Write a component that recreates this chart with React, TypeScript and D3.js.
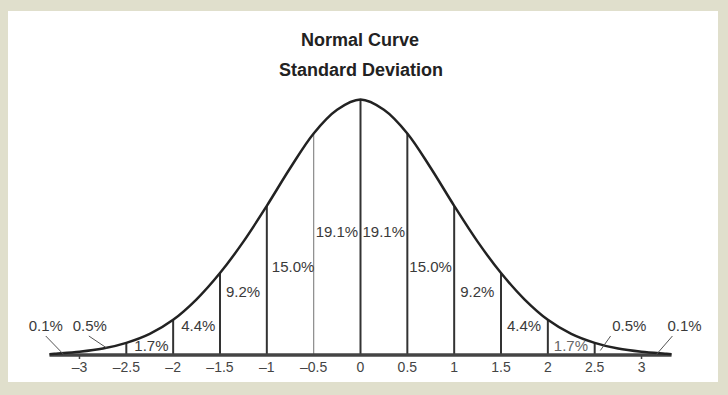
import React from 'react';
import * as d3 from 'd3';

// curve heights (density units), symmetric around 0
const sdPoints = [-3.32, -3.25, -3, -2.75, -2.5, -2.25, -2, -1.75, -1.5, -1.25, -1, -0.75, -0.5, -0.25, 0,
  0.25, 0.5, 0.75, 1, 1.25, 1.5, 1.75, 2, 2.25, 2.5, 2.75, 3, 3.25, 3.32];
const density = [0.0012, 0.002, 0.005, 0.010, 0.019, 0.033, 0.055, 0.087, 0.128, 0.177, 0.233, 0.292, 0.346, 0.383, 0.399,
  0.383, 0.346, 0.292, 0.233, 0.177, 0.128, 0.087, 0.055, 0.033, 0.019, 0.010, 0.005, 0.002, 0.0012];

const tickValues = [-3, -2.5, -2, -1.5, -1, -0.5, 0, 0.5, 1, 1.5, 2, 2.5, 3];
const dividers = [-2.5, -2, -1.5, -1, -0.5, 0, 0.5, 1, 1.5, 2, 2.5];
const segmentStarts = [-2.5, -2, -1.5, -1, -0.5, 0, 0.5, 1, 1.5, 2];
const segmentLabels = ['1.7%', '4.4%', '9.2%', '15.0%', '19.1%', '19.1%', '15.0%', '9.2%', '4.4%', '1.7%'];
const tailLabels = ['0.1%', '0.5%', '0.5%', '0.1%'];

const W = 728;
const H = 395;

// layout (data units)
const labelLevel = [0.006, 0.037, 0.090, 0.129, 0.184, 0.184, 0.129, 0.090, 0.037, 0.006];
const labelPad = [8, 8, 6, 5, 2, 2, 2, 6, 6, 6];
const tailLabelX = [-3.36, -2.89, 2.87, 3.46];
const tailLeaderFrom = [-3.36, -2.9, 2.67, 3.33];
const tailLeaderTo = [-3.17, -2.71, 2.56, 3.16];
const tailLeaderLevel = [0.001, 0.011, 0.007, 0.001];

const lookup = (v: number) => density[sdPoints.indexOf(v)];

const App: React.FC = () => {
  const x = d3.scaleLinear().domain([-3.32, 3.32]).range([49.5, 671.5]);
  const y = d3.scaleLinear().domain([0, 0.399]).range([355, 99.5]);

  const line = d3
    .line<number>()
    .x((d) => x(d))
    .y((_, i) => y(density[i]))
    .curve(d3.curveCatmullRom.alpha(0.5));

  const fmt = (v: number) => (v < 0 ? '\u2013' + Math.abs(v) : String(v));
  const font = '"Liberation Sans", Arial, Helvetica, sans-serif';

  return (
    <div style={{ position: 'absolute', left: 0, top: 0 }}>
      <svg width={W} height={H} style={{ display: 'block' }} fontFamily={font}>
        <rect x={0} y={0} width={W} height={H} fill="#e0dfcc" />
        <rect x={8} y={11} width={710} height={371} fill="#ffffff" />

        <text x={360} y={46} textAnchor="middle" fontSize={18} fontWeight="bold" fill="#222">
          Normal Curve
        </text>
        <text x={361} y={76} textAnchor="middle" fontSize={18} fontWeight="bold" fill="#222">
          Standard Deviation
        </text>

        {/* dividers */}
        {dividers.map((d) => (
          <line
            key={d}
            x1={x(d)}
            x2={x(d)}
            y1={y(0)}
            y2={y(lookup(d))}
            stroke={d === -0.5 ? '#8a8a8a' : '#333'}
            strokeWidth={d === -0.5 ? 1.2 : 2}
          />
        ))}

        {/* axis */}
        <line x1={x(-3.32)} x2={x(3.32)} y1={y(0)} y2={y(0)} stroke="#444" strokeWidth={3.5} />
        {[-3, 3].map((t) => (
          <line key={t} x1={x(t)} x2={x(t)} y1={y(0)} y2={y(0) + 4} stroke="#444" strokeWidth={1.5} />
        ))}

        {/* curve */}
        <path d={line(sdPoints) || ''} fill="none" stroke="#222" strokeWidth={2.5} />

        {/* tick labels */}
        {tickValues.map((t) => (
          <text key={t} x={x(t)} y={372} textAnchor="middle" fontSize={14} fill="#444">
            {fmt(t)}
          </text>
        ))}

        {/* segment labels */}
        {segmentLabels.map((s, i) => (
          <text
            key={i}
            x={x(segmentStarts[i]) + labelPad[i]}
            y={y(labelLevel[i])}
            fontSize={15}
            fill={i === 9 ? '#666' : '#3a3a3a'}
          >
            {s}
          </text>
        ))}

        {/* tail labels with leaders */}
        {tailLabels.map((s, i) => (
          <g key={'t' + i}>
            <text x={x(tailLabelX[i])} y={331} textAnchor="middle" fontSize={15} fill="#3a3a3a">
              {s}
            </text>
            <line
              x1={x(tailLeaderFrom[i])}
              y1={336}
              x2={x(tailLeaderTo[i])}
              y2={y(tailLeaderLevel[i])}
              stroke="#555"
              strokeWidth={1}
            />
          </g>
        ))}
      </svg>
    </div>
  );
};

export default App;
